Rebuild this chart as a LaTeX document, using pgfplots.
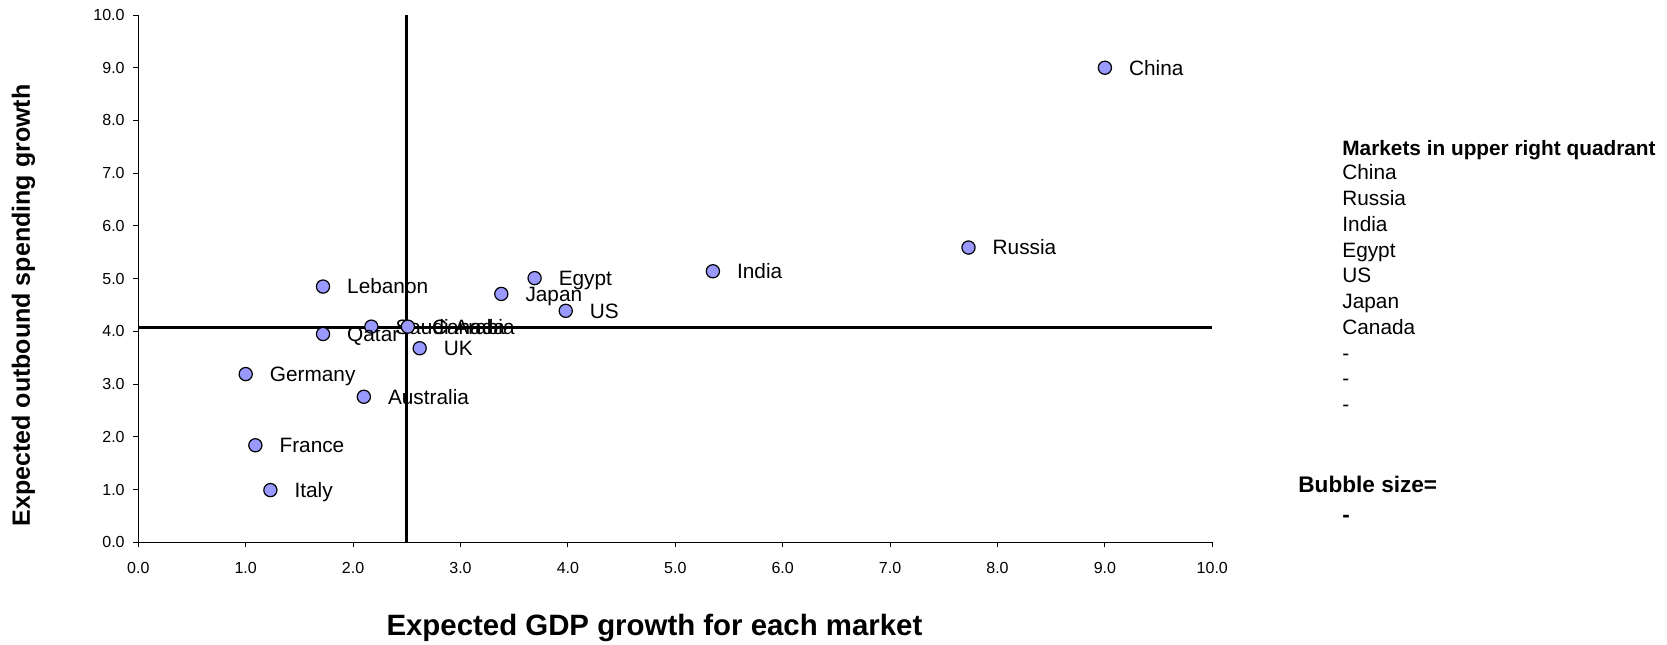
\documentclass[border=0pt]{standalone}
\usepackage{fontspec}
\setmainfont{Liberation Sans}
\usepackage{pgfplots}
\pgfplotsset{compat=1.18}
\definecolor{bubble}{HTML}{9999FF}

\begin{document}
\begin{tikzpicture}[x=1pt,y=1pt]
\useasboundingbox (-69.15,-50.85) rectangle (764.35,271.15);
\begin{axis}[
  at={(0,0)}, anchor=south west,
  scale only axis, width=537pt, height=263.65pt,
  xmin=0, xmax=10, ymin=0, ymax=10,
  axis lines=left,
  axis line style={-, line width=0.5pt, black},
  xtick={0,1,...,10}, ytick={0,1,...,10},
  tick align=outside, major tick length=2.5pt,
  tick style={black, line width=0.5pt},
  ticklabel style={font=\fontsize{8}{9.6}\selectfont, inner sep=0pt},
  xticklabel style={anchor=north, yshift=-7.2pt},
  yticklabel style={anchor=east, xshift=-4.15pt},
  xlabel={Expected GDP growth for each market},
  ylabel={Expected outbound spending growth},
  xlabel style={at={(rel axis cs:0.4806,-0.17713)}, anchor=base, inner sep=0pt,
    font=\bfseries\fontsize{14.7}{17}\selectfont},
  ylabel style={at={(rel axis cs:-0.10084,0.4491)}, anchor=base, rotate=0, inner sep=0pt,
    font=\bfseries\fontsize{12.5}{15}\selectfont},
  clip=false,
  /pgf/number format/fixed,
  /pgf/number format/fixed zerofill,
  /pgf/number format/precision=1,
  /pgf/number format/assume math mode=true,
]
% markets: GDP growth vs outbound spending growth
\addplot[only marks, mark=*, mark size=3.3pt,
  mark options={fill=bubble, draw=black, line width=0.6pt},
  point meta=explicit symbolic,
  nodes near coords,
  every node near coord/.append style={anchor=base west, inner sep=0pt,
    xshift=11.8pt, yshift=-3.7pt, text=black,
    font=\fontsize{10.4}{12}\selectfont}]
  table[col sep=comma, x=x, y=y, meta=label] {
x,y,label
9.00,9.00,China
7.73,5.59,Russia
5.35,5.14,India
3.69,5.01,Egypt
3.38,4.71,Japan
3.98,4.39,US
1.72,4.85,Lebanon
2.17,4.09,Saudi Arabia
2.51,4.09,Canada
1.72,3.95,Qatar
2.62,3.68,UK
1.00,3.19,Germany
2.10,2.76,Australia
1.09,1.84,France
1.23,0.99,Italy
};
% quadrant dividers
\addplot[black, line width=1.6pt] coordinates {(2.5,0) (2.5,10)};
\addplot[black, line width=1.6pt] coordinates {(0,4.08) (10,4.08)};
\end{axis}

% side panel
\node[anchor=base west, inner sep=0pt, font=\bfseries\fontsize{10.4}{12}\selectfont]
  at (601.85,193.65) {Markets in upper right quadrant};
\foreach \t [count=\i from 0] in {China,Russia,India,Egypt,US,Japan,Canada,-,-,-}
  \node[anchor=base west, inner sep=0pt, font=\fontsize{10.4}{12}\selectfont]
    at (601.85,{181.15-12.86*\i}) {\t};
\node[anchor=base west, inner sep=0pt, font=\bfseries\fontsize{11.3}{13}\selectfont]
  at (579.85,24.8) {Bubble size=};
\node[anchor=base west, inner sep=0pt, font=\bfseries\fontsize{11.3}{13}\selectfont]
  at (601.85,9.9) {-};
\end{tikzpicture}
\end{document}
